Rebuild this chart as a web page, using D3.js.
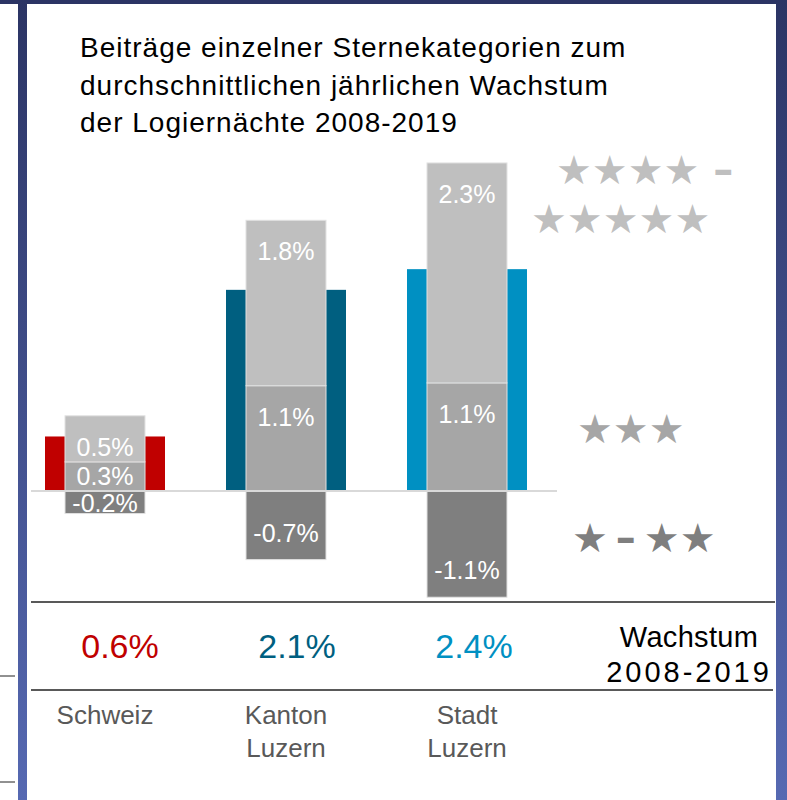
<!DOCTYPE html>
<html>
<head>
<meta charset="utf-8">
<script src="https://cdn.jsdelivr.net/npm/d3@7"></script>
<style>
  body { margin: 0; background: #fff; }
  svg { display: block; font-family: "Liberation Sans", Arial, sans-serif; }
</style>
</head>
<body>
<script>
var width = 787, height = 800;

// data (growth contribution in %)
var categories = ["Schweiz", "Kanton Luzern", "Stadt Luzern"];
var catLines = [["Schweiz"], ["Kanton", "Luzern"], ["Stadt", "Luzern"]];
var oneTwoStars = [-0.24, -0.73, -1.13];
var threeStars = [0.31, 1.12, 1.15];
var fourFiveStars = [0.49, 1.76, 2.34];
var totalGrowth = [0.58, 2.14, 2.36];
var totalColors = ["#c00000", "#005f80", "#0090c2"];
var segColors = { low: "#7f7f7f", mid: "#a6a6a6", high: "#bfbfbf" };
var titleLines = ["Beiträge einzelner Sternekategorien zum",
                  "durchschnittlichen jährlichen Wachstum",
                  "der Logiernächte 2008-2019"];
var legendText = ["★★★★ –", "★★★★★", "★★★", "★\u2009–\u2009★★"];
var legendColors = ["#bfbfbf", "#bfbfbf", "#a6a6a6", "#7f7f7f"];
// vertical place of each legend row, on the % axis
var legendLevel = [3.40, 2.88, 0.65, -0.51];
var legendLeft = [556, 531, 577, 572];

var svg = d3.select("body").append("svg")
    .attr("width", width)
    .attr("height", height);

// frame
var grad = svg.append("defs").append("linearGradient")
    .attr("id", "frame").attr("x1", 0).attr("y1", 0).attr("x2", 0).attr("y2", 1);
grad.append("stop").attr("offset", "0%").attr("stop-color", "#2b3464");
grad.append("stop").attr("offset", "100%").attr("stop-color", "#5669b2");

svg.append("rect").attr("x", 0).attr("y", 0).attr("width", width).attr("height", 4)
    .attr("fill", "#2b3464");
svg.append("rect").attr("x", 18).attr("y", 0).attr("width", 9).attr("height", height)
    .attr("fill", "url(#frame)");
svg.append("rect").attr("x", 776).attr("y", 0).attr("width", 11).attr("height", height)
    .attr("fill", "url(#frame)");
[676, 782].forEach(function(yy) {
  svg.append("line").attr("x1", 0).attr("x2", 15).attr("y1", yy).attr("y2", yy)
      .attr("stroke", "#222").attr("stroke-width", 1);
});

// title
svg.append("text")
    .attr("x", 80).attr("y", 57)
    .attr("font-size", 28).attr("letter-spacing", 1).attr("fill", "#000")
  .selectAll("tspan").data(titleLines).enter().append("tspan")
    .attr("x", 80).attr("dy", function(d, i) { return i ? 37.5 : 0; })
    .text(function(d) { return d; });

// scales
var x = d3.scalePoint().domain(categories).range([105, 467]);
var xTotal = d3.scalePoint().domain(categories).range([120, 474]);
var y = d3.scaleLinear().domain([0, 1]).range([491, 397]);
var fmt = d3.formatLocale({ decimal: ".", thousands: ",", grouping: [3],
                            currency: ["", ""], minus: "-" }).format(".1f");

var rows = categories.map(function(c, i) {
  return { cat: c, low: oneTwoStars[i], mid: threeStars[i], high: fourFiveStars[i],
           total: totalGrowth[i], color: totalColors[i] };
});

// outer total bars
svg.selectAll(".total").data(rows).enter().append("rect")
    .attr("x", function(d) { return x(d.cat) - 60; })
    .attr("width", 120)
    .attr("y", function(d) { return y(d.total); })
    .attr("height", function(d) { return y(0) - y(d.total); })
    .attr("fill", function(d) { return d.color; });

// stacked contributions
var stack = d3.stack().keys(["low", "mid", "high"]).offset(d3.stackOffsetDiverging);
var series = stack(rows);
series.forEach(function(s) { s.forEach(function(d) { d.key = s.key; }); });

var seg = svg.selectAll(".layer").data(series).enter().append("g")
    .attr("fill", function(s) { return segColors[s.key]; });

seg.selectAll("rect").data(function(s) { return s; }).enter().append("rect")
    .attr("x", function(d) { return x(d.data.cat) - 40; })
    .attr("width", 80)
    .attr("y", function(d) { return y(d[1]); })
    .attr("height", function(d) { return y(d[0]) - y(d[1]); })
    .attr("stroke", "#e2e2e2")
    .attr("stroke-width", 1);

seg.selectAll("text").data(function(s) { return s; }).enter().append("text")
    .attr("x", function(d) { return x(d.data.cat); })
    .attr("y", function(d) {
      var top = y(d[1]), bot = y(d[0]);
      if (d[1] > 0) return Math.min(top + 40, bot - 6);
      return Math.max(bot - 18, top + 21);
    })
    .attr("text-anchor", "middle")
    .attr("font-size", 25)
    .attr("fill", "#fff")
    .text(function(d) { return fmt(d.data[d.key]) + "%"; });

// zero line
svg.append("line")
    .attr("x1", 31).attr("x2", 557).attr("y1", y(0)).attr("y2", y(0))
    .attr("stroke", "#d9d9d9").attr("stroke-width", 2);

// legend stars
svg.selectAll(".legend").data(legendText).enter().append("text")
    .attr("x", function(d, i) { return legendLeft[i]; })
    .attr("y", function(d, i) { return y(legendLevel[i]) + 13; })
    .attr("font-family", "DejaVu Sans")
    .attr("font-weight", "bold")
    .attr("font-size", 40)
    .attr("fill", function(d, i) { return legendColors[i]; })
    .text(function(d) { return d; });

// table lines
svg.append("line").attr("x1", 31).attr("x2", 775).attr("y1", 602).attr("y2", 602)
    .attr("stroke", "#222").attr("stroke-width", 1.5);
svg.append("line").attr("x1", 31).attr("x2", 773).attr("y1", 690).attr("y2", 690)
    .attr("stroke", "#222").attr("stroke-width", 1.5);

// totals
svg.selectAll(".tot").data(rows).enter().append("text")
    .attr("x", function(d) { return xTotal(d.cat); })
    .attr("y", 658)
    .attr("text-anchor", "middle")
    .attr("font-size", 34)
    .attr("fill", function(d) { return d.color; })
    .text(function(d) { return fmt(d.total) + "%"; });

svg.append("text")
    .attr("x", 689).attr("y", 647)
    .attr("text-anchor", "middle")
    .attr("font-size", 29).attr("fill", "#000")
  .selectAll("tspan").data(["Wachstum", "2008-2019"]).enter().append("tspan")
    .attr("x", 689).attr("dy", function(d, i) { return i ? 35 : 0; })
    .attr("letter-spacing", function(d, i) { return i ? 3 : 0.3; })
    .text(function(d) { return d; });

// category labels
svg.selectAll(".cat").data(categories).enter().append("text")
    .attr("x", function(d) { return x(d); })
    .attr("y", 724)
    .attr("text-anchor", "middle")
    .attr("font-size", 26)
    .attr("fill", "#595959")
  .selectAll("tspan").data(function(d, i) { return catLines[i]; }).enter().append("tspan")
    .attr("x", function() { return x(d3.select(this.parentNode).datum()); })
    .attr("dy", function(d, i) { return i ? 33 : 0; })
    .text(function(d) { return d; });
</script>
</body>
</html>
